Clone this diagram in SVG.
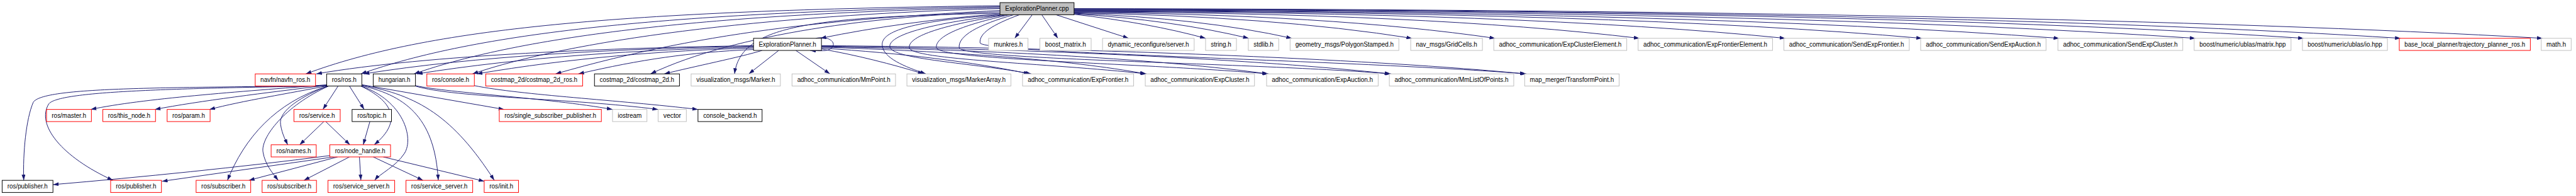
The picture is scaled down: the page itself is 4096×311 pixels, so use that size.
<svg xmlns="http://www.w3.org/2000/svg" width="4096" height="311" viewBox="0 0 4096 311">
<style>
rect{fill:#ffffff;stroke-width:1.3}
.k rect{stroke:#000000}
.r rect{stroke:#ff0000}
.g rect{stroke:#bfbfbf}
.root rect{fill:#bfbfbf;stroke:#000000}
text{font-family:"Liberation Sans",Arial,Helvetica,sans-serif;font-size:13.5px;fill:#000000;text-anchor:middle}
#edges path{fill:none;stroke:#191970;stroke-width:1.3;marker-end:url(#a)}
</style>
<defs>
<marker id="a" viewBox="0 0 12 8" refX="12" refY="4" markerWidth="12" markerHeight="8" orient="auto" markerUnits="userSpaceOnUse"><path d="M0,0 L12,4 L0,8 z" fill="#191970" stroke="none"/></marker>
</defs>
<rect x="0" y="0" width="4096" height="311" style="fill:#ffffff;stroke:none"/>
<g transform="scale(0.755)">
<g id="edges">
<!-- cpp to row1 -->
<path d="M2174,31 L2137,80.5"/>
<path d="M2194,31 L2228,80.5"/>
<path d="M2224,31 L2377,80.5"/>
<path d="M2262,30 Q2420,48 2539,80.5"/>
<path d="M2262,29 Q2470,42 2630,80.5"/>
<path d="M2262,28 Q2530,38 2721,80.5"/>
<path d="M2262,27 Q2680,34 2974,80.5"/>
<path d="M2262,26 Q2800,30 3149,80.5"/>
<path d="M2262,25 Q3000,27 3453,80.5"/>
<path d="M2262,24 Q3200,25 3760,80.5"/>
<path d="M2262,23 Q3400,24 4048,80.5"/>
<path d="M2262,22 Q3550,23 4337,80.5"/>
<path d="M2262,21 Q3750,22 4624,80.5"/>
<path d="M2262,20 Q3950,21 4852,80.5"/>
<path d="M2262,19 Q4120,21 5056,80.5"/>
<path d="M2262,18 Q4300,21 5355,80.5"/>
<path d="M2106,29 Q1900,45 1728,80.5"/>
<!-- cpp to row2 left -->
<path d="M2106,12 C1300,22 900,60 644,155.3"/>
<path d="M2106,14 C1400,25 1000,70 760,155.3"/>
<path d="M2106,16 C1500,28 1100,75 872,155.3"/>
<path d="M2106,18 C1600,32 1200,85 995,155.3"/>
<path d="M2106,22 C1800,38 1500,60 1170,155.3"/>
<path d="M2106,25 C1850,33 1550,70 1370,155.3"/>
<path d="M2106,28 C1700,35 1560,55 1547,155.3"/>
<!-- cpp loops to row2 right -->
<path d="M2110,31 C1900,45 1856,70 1858,95 C1860,122 1905,140 1950,155.3"/>
<path d="M2115,31 C1950,50 1872,75 1874,98 C1876,125 2050,132 2172,155.3"/>
<path d="M2120,31 C1990,52 1913,75 1915,100 C1917,126 2200,132 2415,155.3"/>
<path d="M2126,31 C2030,52 1970,75 1972,100 C1974,126 2400,132 2672,155.3"/>
<path d="M2135,31 C2060,52 2018,75 2020,100 C2022,126 2650,132 2930,155.3"/>
<path d="M2147,31 C2090,52 2062,70 2064,90 C2066,112 2850,126 3215,155.3"/>
<!-- ExplorationPlanner.h -->
<path d="M1587,96 C1300,100 900,115 666,155.3"/>
<path d="M1587,97 C1300,102 1000,118 766,155.3"/>
<path d="M1587,99 C1350,104 1100,120 878,155.3"/>
<path d="M1587,101 C1400,106 1200,122 1004,155.3"/>
<path d="M1587,104 C1450,110 1350,125 1218,155.3"/>
<path d="M1605,106 C1560,120 1460,140 1399,155.3"/>
<path d="M1640,106 L1577,155.3"/>
<path d="M1676,106 L1748,155.3"/>
<path d="M1730,103 C1800,115 1880,135 1945,155.3"/>
<path d="M1730,101 C1900,112 2050,130 2168,155.3"/>
<path d="M1730,99 C2000,108 2250,125 2413,155.3"/>
<path d="M1730,98 C2100,105 2450,125 2670,155.3"/>
<path d="M1730,97 C2200,103 2650,125 2928,155.3"/>
<path d="M1730,96 C2300,100 2900,125 3213,155.3"/>
<path d="M1718,80.5 C1748,74 1764,92 1750,102 C1742,108 1728,107 1706,106"/>
<!-- ros/ros.h -->
<path d="M689,180 C350,185 90,182 70,215 C55,250 48,320 50,379"/>
<path d="M689,180.5 C350,186 125,192 103,218 C75,262 130,330 238,379"/>
<path d="M690,178 C500,193 300,207 191,230"/>
<path d="M690,179 C560,195 420,212 326,230"/>
<path d="M691,180 C610,196 510,212 441,230"/>
<path d="M712,181 L680,230"/>
<path d="M736,181 L767,230"/>
<path d="M690,181 C640,200 585,232 591,262 C594,282 602,296 606,304.3"/>
<path d="M690,181 C580,215 515,290 479,379"/>
<path d="M692,181 C600,222 548,290 554,320 C558,345 574,364 586,379"/>
<path d="M760,181 C822,210 852,252 788,304.3"/>
<path d="M761,181 C850,212 872,290 852,322 C834,350 800,365 789,379"/>
<path d="M761,180 C862,202 916,255 923,379"/>
<path d="M762,179 C880,200 955,245 1041,379"/>
<path d="M762,178 L1062,230"/>
<!-- hungarian / console -->
<path d="M875,180 C950,196 1150,205 1290,230"/>
<path d="M875,181 C960,206 1200,206 1386,230"/>
<path d="M999,180 C1100,200 1300,210 1470,230"/>
<!-- service / topic -->
<path d="M682,255.5 L631,304.3"/>
<path d="M686,255.5 L737,304.3"/>
<path d="M779,255.5 L765,304.3"/>
<!-- node_handle -->
<path d="M695,327 C500,352 300,372 111.5,388"/>
<path d="M703,329.8 L341,381"/>
<path d="M711,329.8 L524,379"/>
<path d="M736,329.8 L640,379"/>
<path d="M757,329.8 L760,379"/>
<path d="M786,329.8 L891,379"/>
<path d="M807,329.8 L1020,381"/>
</g>
<g id="n_cpp" class="root"><rect x="2106" y="5.5" width="156" height="25.5"/><text x="2184" y="22.8" textLength="134" lengthAdjust="spacingAndGlyphs">ExplorationPlanner.cpp</text></g>
<g id="n_eph" class="k"><rect x="1587" y="80.5" width="143" height="25.5"/><text x="1658.5" y="97.8" textLength="121" lengthAdjust="spacingAndGlyphs">ExplorationPlanner.h</text></g>
<g id="n_munkres" class="g"><rect x="2082" y="80.5" width="83" height="25.5"/><text x="2123.5" y="97.8" textLength="61" lengthAdjust="spacingAndGlyphs">munkres.h</text></g>
<g id="n_boost_matrix" class="g"><rect x="2190" y="80.5" width="108" height="25.5"/><text x="2244" y="97.8" textLength="86" lengthAdjust="spacingAndGlyphs">boost_matrix.h</text></g>
<g id="n_dynreconf" class="g"><rect x="2322" y="80.5" width="193" height="25.5"/><text x="2418.5" y="97.8" textLength="171" lengthAdjust="spacingAndGlyphs">dynamic_reconfigure/server.h</text></g>
<g id="n_string" class="g"><rect x="2539" y="80.5" width="65" height="25.5"/><text x="2571.5" y="97.8" textLength="43" lengthAdjust="spacingAndGlyphs">string.h</text></g>
<g id="n_stdlib" class="g"><rect x="2629" y="80.5" width="64" height="25.5"/><text x="2661" y="97.8" textLength="42" lengthAdjust="spacingAndGlyphs">stdlib.h</text></g>
<g id="n_polygon" class="g"><rect x="2717" y="80.5" width="229" height="25.5"/><text x="2831.5" y="97.8" textLength="207" lengthAdjust="spacingAndGlyphs">geometry_msgs/PolygonStamped.h</text></g>
<g id="n_gridcells" class="g"><rect x="2971" y="80.5" width="151" height="25.5"/><text x="3046.5" y="97.8" textLength="129" lengthAdjust="spacingAndGlyphs">nav_msgs/GridCells.h</text></g>
<g id="n_expclusterelement" class="g"><rect x="3146" y="80.5" width="280" height="25.5"/><text x="3286" y="97.8" textLength="258" lengthAdjust="spacingAndGlyphs">adhoc_communication/ExpClusterElement.h</text></g>
<g id="n_expfrontierelement" class="g"><rect x="3450" y="80.5" width="283" height="25.5"/><text x="3591.5" y="97.8" textLength="261" lengthAdjust="spacingAndGlyphs">adhoc_communication/ExpFrontierElement.h</text></g>
<g id="n_sendexpfrontier" class="g"><rect x="3757" y="80.5" width="264" height="25.5"/><text x="3889" y="97.8" textLength="242" lengthAdjust="spacingAndGlyphs">adhoc_communication/SendExpFrontier.h</text></g>
<g id="n_sendexpauction" class="g"><rect x="4045" y="80.5" width="264" height="25.5"/><text x="4177" y="97.8" textLength="242" lengthAdjust="spacingAndGlyphs">adhoc_communication/SendExpAuction.h</text></g>
<g id="n_sendexpcluster" class="g"><rect x="4334" y="80.5" width="263" height="25.5"/><text x="4465.5" y="97.8" textLength="241" lengthAdjust="spacingAndGlyphs">adhoc_communication/SendExpCluster.h</text></g>
<g id="n_ublas_matrix" class="g"><rect x="4621" y="80.5" width="204" height="25.5"/><text x="4723" y="97.8" textLength="182" lengthAdjust="spacingAndGlyphs">boost/numeric/ublas/matrix.hpp</text></g>
<g id="n_ublas_io" class="g"><rect x="4849" y="80.5" width="179" height="25.5"/><text x="4938.5" y="97.8" textLength="157" lengthAdjust="spacingAndGlyphs">boost/numeric/ublas/io.hpp</text></g>
<g id="n_trajectory" class="r"><rect x="5053" y="80.5" width="276" height="25.5"/><text x="5191" y="97.8" textLength="254" lengthAdjust="spacingAndGlyphs">base_local_planner/trajectory_planner_ros.h</text></g>
<g id="n_math" class="g"><rect x="5352" y="80.5" width="63" height="25.5"/><text x="5383.5" y="97.8" textLength="41" lengthAdjust="spacingAndGlyphs">math.h</text></g>
<g id="n_navfn" class="r"><rect x="537.5" y="155.3" width="127" height="25.5"/><text x="601" y="172.6" textLength="105" lengthAdjust="spacingAndGlyphs">navfn/navfn_ros.h</text></g>
<g id="n_rosh" class="k"><rect x="688" y="155.3" width="74" height="25.5"/><text x="725" y="172.6" textLength="52" lengthAdjust="spacingAndGlyphs">ros/ros.h</text></g>
<g id="n_hungarian" class="k"><rect x="786" y="155.3" width="89" height="25.5"/><text x="830.5" y="172.6" textLength="67" lengthAdjust="spacingAndGlyphs">hungarian.h</text></g>
<g id="n_console" class="r"><rect x="899" y="155.3" width="100" height="25.5"/><text x="949" y="172.6" textLength="78" lengthAdjust="spacingAndGlyphs">ros/console.h</text></g>
<g id="n_costmap_ros" class="r"><rect x="1023" y="155.3" width="204" height="25.5"/><text x="1125" y="172.6" textLength="182" lengthAdjust="spacingAndGlyphs">costmap_2d/costmap_2d_ros.h</text></g>
<g id="n_costmap" class="k"><rect x="1252" y="155.3" width="179" height="25.5"/><text x="1341.5" y="172.6" textLength="157" lengthAdjust="spacingAndGlyphs">costmap_2d/costmap_2d.h</text></g>
<g id="n_marker" class="g"><rect x="1455.5" y="155.3" width="188" height="25.5"/><text x="1549.5" y="172.6" textLength="166" lengthAdjust="spacingAndGlyphs">visualization_msgs/Marker.h</text></g>
<g id="n_mmpoint" class="g"><rect x="1668" y="155.3" width="218" height="25.5"/><text x="1777" y="172.6" textLength="196" lengthAdjust="spacingAndGlyphs">adhoc_communication/MmPoint.h</text></g>
<g id="n_markerarray" class="g"><rect x="1910" y="155.3" width="219" height="25.5"/><text x="2019.5" y="172.6" textLength="197" lengthAdjust="spacingAndGlyphs">visualization_msgs/MarkerArray.h</text></g>
<g id="n_expfrontier" class="g"><rect x="2153.5" y="155.3" width="234" height="25.5"/><text x="2270.5" y="172.6" textLength="212" lengthAdjust="spacingAndGlyphs">adhoc_communication/ExpFrontier.h</text></g>
<g id="n_expcluster" class="g"><rect x="2412" y="155.3" width="230" height="25.5"/><text x="2527" y="172.6" textLength="208" lengthAdjust="spacingAndGlyphs">adhoc_communication/ExpCluster.h</text></g>
<g id="n_expauction" class="g"><rect x="2667.5" y="155.3" width="235" height="25.5"/><text x="2785" y="172.6" textLength="213" lengthAdjust="spacingAndGlyphs">adhoc_communication/ExpAuction.h</text></g>
<g id="n_mmlist" class="g"><rect x="2926" y="155.3" width="262" height="25.5"/><text x="3057" y="172.6" textLength="240" lengthAdjust="spacingAndGlyphs">adhoc_communication/MmListOfPoints.h</text></g>
<g id="n_transform" class="g"><rect x="3211" y="155.3" width="199" height="25.5"/><text x="3310.5" y="172.6" textLength="177" lengthAdjust="spacingAndGlyphs">map_merger/TransformPoint.h</text></g>
<g id="n_master" class="r"><rect x="98" y="230" width="94.5" height="25.5"/><text x="145.25" y="247.3" textLength="72.5" lengthAdjust="spacingAndGlyphs">ros/master.h</text></g>
<g id="n_this_node" class="r"><rect x="216.5" y="230" width="111" height="25.5"/><text x="272" y="247.3" textLength="89" lengthAdjust="spacingAndGlyphs">ros/this_node.h</text></g>
<g id="n_param" class="r"><rect x="352" y="230" width="90.5" height="25.5"/><text x="397.25" y="247.3" textLength="68.5" lengthAdjust="spacingAndGlyphs">ros/param.h</text></g>
<g id="n_service" class="r"><rect x="619" y="230" width="97.5" height="25.5"/><text x="667.75" y="247.3" textLength="75.5" lengthAdjust="spacingAndGlyphs">ros/service.h</text></g>
<g id="n_topic" class="k"><rect x="741.5" y="230" width="83" height="25.5"/><text x="783" y="247.3" textLength="61" lengthAdjust="spacingAndGlyphs">ros/topic.h</text></g>
<g id="n_single" class="r"><rect x="1051.5" y="230" width="215" height="25.5"/><text x="1159" y="247.3" textLength="193" lengthAdjust="spacingAndGlyphs">ros/single_subscriber_publisher.h</text></g>
<g id="n_iostream" class="g"><rect x="1290" y="230" width="72.5" height="25.5"/><text x="1326.25" y="247.3" textLength="50.5" lengthAdjust="spacingAndGlyphs">iostream</text></g>
<g id="n_vector" class="g"><rect x="1386" y="230" width="59.5" height="25.5"/><text x="1415.75" y="247.3" textLength="37.5" lengthAdjust="spacingAndGlyphs">vector</text></g>
<g id="n_console_backend" class="k"><rect x="1470" y="230" width="135" height="25.5"/><text x="1537.5" y="247.3" textLength="113" lengthAdjust="spacingAndGlyphs">console_backend.h</text></g>
<g id="n_names" class="r"><rect x="571" y="304.3" width="95" height="25.5"/><text x="618.5" y="321.6" textLength="73" lengthAdjust="spacingAndGlyphs">ros/names.h</text></g>
<g id="n_node_handle" class="r"><rect x="694.5" y="304.3" width="128" height="25.5"/><text x="758.5" y="321.6" textLength="106" lengthAdjust="spacingAndGlyphs">ros/node_handle.h</text></g>
<g id="n_publisher1" class="k"><rect x="4.5" y="379" width="107" height="25.5"/><text x="58" y="396.3" textLength="85" lengthAdjust="spacingAndGlyphs">ros/publisher.h</text></g>
<g id="n_publisher2" class="r"><rect x="233" y="379" width="107" height="25.5"/><text x="286.5" y="396.3" textLength="85" lengthAdjust="spacingAndGlyphs">ros/publisher.h</text></g>
<g id="n_subscriber1" class="r"><rect x="413" y="379" width="115" height="25.5"/><text x="470.5" y="396.3" textLength="93" lengthAdjust="spacingAndGlyphs">ros/subscriber.h</text></g>
<g id="n_subscriber2" class="r"><rect x="552" y="379" width="114.5" height="25.5"/><text x="609.25" y="396.3" textLength="92.5" lengthAdjust="spacingAndGlyphs">ros/subscriber.h</text></g>
<g id="n_service_server1" class="r"><rect x="690.7" y="379" width="140.5" height="25.5"/><text x="760.95" y="396.3" textLength="118.5" lengthAdjust="spacingAndGlyphs">ros/service_server.h</text></g>
<g id="n_service_server2" class="r"><rect x="855" y="379" width="140.5" height="25.5"/><text x="925.25" y="396.3" textLength="118.5" lengthAdjust="spacingAndGlyphs">ros/service_server.h</text></g>
<g id="n_init" class="r"><rect x="1019.7" y="379" width="72.3" height="25.5"/><text x="1055.85" y="396.3" textLength="50.3" lengthAdjust="spacingAndGlyphs">ros/init.h</text></g>
</g>
</svg>
